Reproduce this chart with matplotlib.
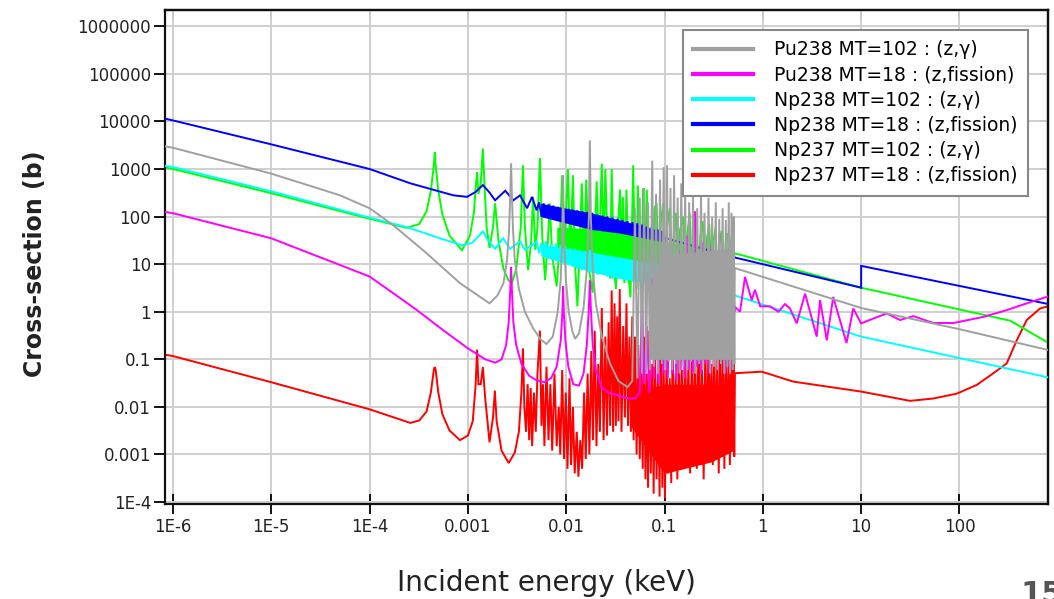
import matplotlib
matplotlib.use("Agg")
import matplotlib.pyplot as plt
from matplotlib.ticker import FixedLocator, FixedFormatter, NullLocator

# ---------------- data (energy in keV, cross-section in barn) ----------------
pu238_capture_E = [8.3e-7, 1e-6, 1e-5, 5e-5, 1e-4, 1.74e-4, 3.8e-4, 8.3e-4, 1.66e-3,
    2.0e-3, 2.3e-3, 2.5e-3, 2.62e-3, 2.7e-3, 2.75e-3, 2.8e-3, 2.88e-3, 3.0e-3, 3.3e-3,
    3.8e-3, 4.6e-3, 5.5e-3, 6.3e-3, 7.3e-3, 8.2e-3, 8.8e-3, 9.1e-3, 9.3e-3, 9.5e-3,
    9.9e-3, 1.06e-2, 1.15e-2, 1.23e-2, 1.35e-2, 1.5e-2, 1.62e-2, 1.7e-2, 1.74e-2,
    1.78e-2, 1.86e-2, 2.0e-2, 2.3e-2, 2.8e-2, 3.4e-2, 4.2e-2,
    0.047, 0.050, 0.053, 0.056, 0.059, 0.062, 0.065, 0.068, 0.071, 0.075, 0.078, 0.082,
    0.086, 0.090, 0.094, 0.098, 0.102, 0.106, 0.110, 0.115, 0.120, 0.125, 0.130, 0.136,
    0.142, 0.148, 0.155, 0.162, 0.170, 0.178, 0.186, 0.195, 0.205, 0.215, 0.225, 0.235,
    0.245, 0.255, 0.268, 0.280, 0.292, 0.305, 0.318, 0.332, 0.346, 0.360, 0.375, 0.390,
    0.405, 0.42, 0.435, 0.45, 0.465, 0.48, 0.495, 0.505, 0.513, 0.518,
    1.0, 10.0, 100.0, 875.0]
pu238_capture_xs = [3000, 2800, 800, 280, 150, 66, 17, 4, 1.5,
    2.2, 4, 12, 50, 300, 1300, 300, 50, 12, 3,
    1.0, 0.45, 0.26, 0.21, 0.3, 1, 5, 40, 740, 40,
    5, 1, 0.4, 0.27, 0.35, 1.2, 8, 100, 4000,
    100, 8, 1.5, 0.3, 0.08, 0.035, 0.026,
    0.035, 150, 0.04, 250, 0.05, 400, 0.05, 200, 0.06, 1500, 0.07, 300,
    0.05, 600, 0.08, 1100, 0.06, 1200, 0.09, 400, 0.06, 740, 0.08, 250,
    0.05, 500, 0.07, 330, 0.06, 200, 0.09, 260, 0.05, 150, 0.08, 300,
    0.06, 120, 0.1, 250, 0.05, 100, 0.07, 200, 0.06, 90, 0.08, 150,
    0.05, 85, 0.07, 200, 0.05, 120, 0.06, 100, 0.08, 8.3,
    5.4, 1.2, 0.43, 0.15]
# dense region (envelope of the packed resonances)
pu238_capture_band_E = [0.07, 0.1, 0.3, 0.5]
pu238_capture_band_hi = [3, 15, 20, 20]
pu238_capture_band_lo = [0.1, 0.1, 0.1, 0.1]

pu238_fission_E = [8.3e-7, 1e-6, 1e-5, 1e-4, 2e-4, 3e-4, 5.6e-4, 1e-3, 1.5e-3, 1.9e-3,
    2.2e-3, 2.45e-3, 2.6e-3, 2.7e-3, 2.75e-3, 2.8e-3, 2.9e-3, 3.1e-3, 3.5e-3, 4.2e-3,
    5.0e-3, 6.0e-3, 7.0e-3, 8.0e-3, 8.8e-3, 9.15e-3, 9.3e-3, 9.45e-3, 9.8e-3, 1.05e-2,
    1.18e-2, 1.35e-2, 1.5e-2, 1.62e-2, 1.7e-2, 1.74e-2, 1.78e-2, 1.86e-2, 2.0e-2, 2.3e-2,
    2.7e-2, 3.2e-2, 3.8e-2, 4.4e-2, 5.0e-2,
    0.056, 0.059, 0.062, 0.066, 0.070, 0.074, 0.078, 0.082, 0.087, 0.092, 0.097, 0.102,
    0.108, 0.114, 0.120, 0.126, 0.132, 0.139, 0.146, 0.153, 0.160, 0.168, 0.176, 0.185,
    0.194, 0.204, 0.214, 0.225, 0.236, 0.248, 0.260, 0.273, 0.286, 0.300, 0.315, 0.330,
    0.345, 0.360, 0.378, 0.396, 0.415, 0.435, 0.455, 0.475, 0.490, 0.505, 0.515,
    0.52, 0.586, 0.659, 0.77, 0.83, 0.94, 1.18, 1.44, 1.68, 1.89, 2.21, 2.69, 3.53, 3.82,
    4.47, 5.2, 7.1, 8.3, 10, 13.3, 18.2, 24.9, 34, 54, 87, 175, 302, 483, 772, 875]
pu238_fission_xs = [125, 118, 35, 5.5, 2.0, 1.1, 0.41, 0.17, 0.1, 0.085,
    0.1, 0.2, 0.6, 3, 8.7, 3, 0.6, 0.2, 0.08, 0.045,
    0.036, 0.033, 0.04, 0.07, 0.25, 1.0, 3.4, 1.0, 0.25, 0.07,
    0.03, 0.028, 0.05, 0.2, 1.2, 4.6, 1.2, 0.2, 0.06, 0.025,
    0.02, 0.018, 0.016, 0.015, 0.015,
    0.02, 2, 0.03, 0.5, 0.02, 5, 0.04, 1, 0.03, 8, 0.05, 0.8,
    0.04, 15, 0.05, 2, 0.035, 20, 0.06, 3, 0.04, 40, 0.06, 5,
    0.05, 130, 0.07, 8, 0.05, 30, 0.08, 6, 0.05, 25, 0.07, 4,
    0.06, 45, 0.08, 10, 0.05, 20, 0.07, 5, 0.06, 3, 1.0,
    1.27, 1.0, 5.4, 1.75, 2.9, 1.3, 1.3, 1.0, 1.45, 1.17, 0.57, 2.4, 0.3, 1.75,
    0.25, 2.05, 0.22, 1.17, 0.57, 0.72, 0.92, 0.67, 0.81, 0.58, 0.58, 0.78, 1.08, 1.5, 2.05, 2.3]

np238_capture_E = [8.3e-7, 1e-6, 1e-5, 1e-4, 2.4e-4, 5e-4, 8.7e-4, 1.1e-3, 1.3e-3, 1.42e-3,
    1.55e-3, 1.89e-3, 2.28e-3, 2.68e-3, 3.39e-3, 3.81e-3, 4.49e-3,
    0.0050, 0.0053, 0.0056, 0.0059, 0.0062, 0.0066, 0.0070, 0.0074, 0.0078, 0.0083,
    0.0088, 0.0093, 0.0098, 0.0104, 0.0110, 0.0116, 0.0123, 0.0130, 0.0138, 0.0146,
    0.0155, 0.0164, 0.0174, 0.0184, 0.0195, 0.0207, 0.0220, 0.0233, 0.0247, 0.0262,
    0.0278, 0.0295, 0.0313, 0.0332, 0.0352, 0.0373, 0.0396, 0.0420, 0.0445, 0.0472,
    0.0500, 0.0530, 0.0562, 0.0596, 0.0632, 0.0670, 0.0710, 0.0753, 0.0798, 0.0846,
    0.0897, 0.0950, 0.1000, 0.103,
    0.52, 10, 875]
np238_capture_xs = [1170, 1100, 340, 95, 60, 36, 25, 28, 40, 49,
    35, 21, 35, 21, 30, 20, 25,
    30, 17, 28, 15, 30, 14, 26, 13, 27, 12,
    25, 11, 24, 10, 22, 9, 21, 8, 20, 7.5,
    19, 7, 20, 6.5, 17, 6, 16, 6, 15, 5.5,
    15, 5, 14, 5, 14, 4.8, 13, 4.5, 12.5, 4.3,
    12, 4.2, 11.5, 4, 11, 3.8, 11, 3.7, 10.5, 3.6,
    10, 3.5, 9.5, 5.5,
    2.2, 0.3, 0.04]
np238_capture_band_E = [0.0055, 0.0176, 0.035, 0.1]
np238_capture_band_hi = [26, 18, 14, 9.5]
np238_capture_band_lo = [15, 7, 5, 3.6]

np238_fission_E = [8.3e-7, 1e-6, 1e-5, 1e-4, 2.6e-4, 7.1e-4, 9.8e-4, 1.2e-3, 1.42e-3, 1.66e-3,
    1.89e-3, 2.4e-3, 2.9e-3, 3.39e-3, 4.0e-3, 4.49e-3, 5.0e-3,
    0.0053, 0.0056, 0.0059, 0.0062, 0.0066, 0.0070, 0.0074, 0.0078, 0.0083, 0.0088,
    0.0093, 0.0098, 0.0104, 0.0110, 0.0116, 0.0123, 0.0130, 0.0138, 0.0146, 0.0155,
    0.0164, 0.0174, 0.0184, 0.0195, 0.0207, 0.0220, 0.0233, 0.0247, 0.0262, 0.0278,
    0.0295, 0.0313, 0.0332, 0.0352, 0.0373, 0.0396, 0.0420, 0.0445, 0.0472, 0.0500,
    0.0530, 0.0562, 0.0596, 0.0632, 0.0670, 0.0710, 0.0753, 0.0798, 0.0846, 0.0897,
    0.0950, 0.1000, 0.103,
    0.52, 10, 10, 875]
np238_fission_xs = [11500, 10500, 3300, 1000, 500, 280, 260, 330, 460, 320,
    220, 350, 220, 280, 150, 260, 135,
    200, 100, 190, 95, 180, 90, 170, 85, 160, 80,
    150, 76, 145, 72, 140, 68, 135, 64, 130, 60,
    125, 57, 120, 55, 110, 53, 105, 51, 100, 49,
    95, 47, 90, 46, 85, 44, 80, 42, 76, 40,
    72, 38, 68, 36, 62, 34, 58, 32, 54, 30,
    50, 29, 35,
    13.8, 3.2, 9.2, 1.4]
np238_fission_band_E = [0.0055, 0.0176, 0.035, 0.1]
np238_fission_band_hi = [190, 120, 85, 48]
np238_fission_band_lo = [100, 54, 45, 29]

np237_capture_E = [8.3e-7, 1e-6, 1e-5, 1e-4, 2.4e-4, 3.2e-4, 3.8e-4, 4.2e-4, 4.5e-4, 4.6e-4,
    4.7e-4, 5.0e-4, 5.5e-4, 6.5e-4, 8.7e-4, 1.05e-3, 1.15e-3, 1.21e-3, 1.24e-3, 1.28e-3,
    1.35e-3, 1.42e-3, 1.48e-3, 1.55e-3, 1.66e-3, 1.8e-3, 1.89e-3, 2.05e-3, 2.3e-3, 2.6e-3,
    2.8e-3, 3.1e-3, 3.45e-3, 3.63e-3, 3.8e-3, 4.1e-3, 4.4e-3, 4.6e-3, 4.85e-3, 5.1e-3,
    5.4e-3, 5.7e-3, 6.1e-3, 6.5e-3, 6.8e-3, 7.2e-3, 8.0e-3, 8.6e-3, 9.1e-3, 9.6e-3,
    1.04e-2, 1.1e-2, 1.17e-2, 1.23e-2, 1.3e-2, 1.37e-2, 1.44e-2, 1.52e-2, 1.6e-2, 1.7e-2,
    1.86e-2, 1.95e-2, 2.04e-2, 2.15e-2, 2.3e-2, 2.4e-2, 2.5e-2, 2.65e-2,
    0.028, 0.029, 0.0305, 0.032, 0.0335, 0.0353, 0.0365, 0.0377, 0.039, 0.041, 0.043,
    0.045, 0.0465, 0.048, 0.050, 0.052, 0.0535, 0.056, 0.058, 0.0605, 0.063, 0.066,
    0.069, 0.072, 0.075, 0.079, 0.083, 0.087, 0.092, 0.097, 0.101, 0.106, 0.113, 0.118,
    0.124, 0.130, 0.136, 0.143, 0.155, 0.162, 0.170, 0.180, 0.190, 0.200, 0.210, 0.220,
    0.232, 0.245, 0.258, 0.270, 0.285, 0.300, 0.315, 0.330, 0.345, 0.360, 0.380, 0.400,
    0.420, 0.440, 0.460, 0.480, 0.500, 0.515,
    10, 327, 875]
np237_capture_xs = [1080, 1000, 310, 90, 58, 70, 130, 350, 1200, 2240,
    1200, 350, 110, 40, 19.6, 40, 120, 500, 850, 300,
    500, 2700, 400, 60, 22, 60, 190, 30, 8, 4.5,
    4, 8, 60, 1200, 60, 7.5, 30, 260, 20, 60,
    1700, 40, 4.6, 30, 190, 15, 3.4, 30, 740, 20,
    1000, 15, 740, 10, 1.3, 20, 500, 12, 600, 8,
    2.5, 30, 550, 15, 1300, 20, 1000, 15,
    5, 1000, 10, 3, 60, 370, 8, 260, 4, 370, 6,
    2, 50, 1200, 10, 3, 450, 8, 3, 400, 6, 370,
    5, 60, 4, 150, 190, 6, 80, 190, 5, 60, 150, 6,
    40, 120, 5, 50, 100, 7, 40, 120, 6, 50, 90, 5,
    40, 80, 6, 35, 70, 5, 30, 60, 6, 25, 50, 5,
    30, 45, 6, 37, 8, 17,
    3.2, 0.65, 0.2]
np237_capture_band_E = [0.008, 0.0176, 0.035, 0.1, 0.3]
np237_capture_band_hi = [60, 55, 45, 30, 20]
np237_capture_band_lo = [14, 10, 8, 6, 5]

np237_fission_E = [8.3e-7, 1e-6, 1e-5, 1e-4, 2.6e-4, 3.2e-4, 3.8e-4, 4.2e-4, 4.5e-4, 4.6e-4,
    4.7e-4, 5.0e-4, 5.5e-4, 6.5e-4, 8.3e-4, 1.0e-3, 1.12e-3, 1.2e-3, 1.24e-3, 1.28e-3,
    1.35e-3, 1.42e-3, 1.5e-3, 1.66e-3, 1.8e-3, 1.88e-3, 1.96e-3, 2.2e-3, 2.6e-3, 3.0e-3,
    3.3e-3, 3.5e-3, 3.63e-3, 3.75e-3, 3.9e-3, 4.05e-3, 4.2e-3, 4.35e-3, 4.5e-3, 4.7e-3,
    4.9e-3, 5.1e-3, 5.4e-3, 5.6e-3, 5.8e-3, 6.0e-3, 6.3e-3, 6.6e-3, 6.9e-3, 7.2e-3,
    7.6e-3, 8.0e-3, 8.4e-3, 8.7e-3, 9.1e-3, 9.5e-3, 9.9e-3, 1.03e-2, 1.08e-2, 1.12e-2,
    1.17e-2, 1.22e-2, 1.28e-2, 1.33e-2, 1.39e-2, 1.45e-2, 1.52e-2, 1.58e-2, 1.65e-2, 1.72e-2,
    1.8e-2, 1.87e-2, 1.95e-2, 2.03e-2, 2.12e-2, 2.2e-2, 2.3e-2, 2.4e-2, 2.5e-2, 2.6e-2,
    2.7e-2, 2.8e-2, 2.9e-2, 3.0e-2, 3.1e-2, 3.2e-2, 3.3e-2, 3.4e-2, 3.5e-2, 3.65e-2,
    3.8e-2, 3.95e-2, 4.1e-2, 4.25e-2, 4.4e-2, 4.55e-2, 4.7e-2, 4.85e-2, 5.0e-2, 5.2e-2,
    5.4e-2, 5.6e-2, 5.8e-2, 6.0e-2, 6.2e-2, 6.4e-2, 6.6e-2, 6.8e-2, 7.0e-2, 7.25e-2,
    7.5e-2, 7.75e-2, 8.0e-2, 8.3e-2, 8.6e-2, 8.9e-2, 9.2e-2, 9.5e-2, 9.8e-2, 0.101,
    0.105, 0.109, 0.113, 0.117, 0.121, 0.125, 0.130, 0.135, 0.140, 0.145,
    0.150, 0.156, 0.162, 0.168, 0.175, 0.182, 0.190, 0.197, 0.205, 0.213,
    0.222, 0.231, 0.240, 0.250, 0.260, 0.270, 0.280, 0.290, 0.300, 0.310,
    0.320, 0.332, 0.344, 0.356, 0.368, 0.380, 0.393, 0.406, 0.420, 0.434,
    0.448, 0.462, 0.476, 0.490, 0.503, 0.512, 0.52,
    0.975, 2.04, 10, 31.4, 54, 94, 150, 221, 302, 382, 483, 660, 875]
np237_fission_xs = [0.125, 0.117, 0.033, 0.0089, 0.0046, 0.0052, 0.008, 0.02, 0.06, 0.069,
    0.06, 0.02, 0.007, 0.0032, 0.002, 0.0025, 0.005, 0.03, 0.16, 0.03,
    0.03, 0.069, 0.015, 0.0018, 0.006, 0.022, 0.005, 0.0012, 0.00066, 0.0011,
    0.003, 0.02, 0.17, 0.01, 0.003, 0.03, 0.002, 0.025, 0.0015, 0.02,
    0.003, 0.05, 0.4, 0.004, 0.03, 0.0015, 0.07, 0.002, 0.03, 0.0012,
    0.05, 0.0015, 0.01, 0.001, 0.06, 0.0008, 0.02, 0.0005, 0.04, 0.0006,
    0.01, 0.0004, 0.003, 0.00034, 0.002, 0.0005, 0.02, 0.0008, 0.05, 0.001,
    0.15, 0.002, 0.4, 0.0015, 0.08, 0.003, 1.2, 0.002, 0.3, 0.0025,
    0.6, 0.004, 2.8, 0.003, 1.5, 0.004, 0.8, 0.005, 3, 0.003,
    0.5, 0.006, 1.5, 0.004, 0.3, 0.003, 0.8, 0.002, 0.3, 0.001,
    0.2, 0.0008, 0.1, 0.0005, 0.3, 0.0003, 0.05, 0.0002, 0.4, 0.0004,
    0.08, 0.00015, 0.2, 0.0003, 0.05, 0.00013, 0.3, 0.0002, 0.06, 0.00012,
    0.15, 0.0004, 0.04, 0.00025, 0.3, 0.0005, 0.05, 0.0003, 0.2, 0.001,
    0.06, 0.0005, 0.3, 0.0008, 0.1, 0.0004, 0.25, 0.0006, 0.15, 0.0005,
    0.4, 0.0012, 0.1, 0.0003, 0.2, 0.0008, 0.3, 0.002, 0.08, 0.0006,
    0.25, 0.0015, 0.1, 0.0004, 0.3, 0.001, 0.15, 0.0005, 0.2, 0.0012,
    0.1, 0.0006, 0.25, 0.0015, 0.1, 0.0009, 0.051,
    0.055, 0.034, 0.021, 0.0134, 0.015, 0.019, 0.029, 0.051, 0.082, 0.25, 0.67, 1.17, 1.38]
np237_fission_band_E = [0.045, 0.1, 0.3, 0.5]
np237_fission_band_hi = [0.02, 0.03, 0.03, 0.025]
np237_fission_band_lo = [0.004, 0.0004, 0.0007, 0.0012]

series_labels = ["Pu238 MT=102 : (z,\u03b3)", "Pu238 MT=18 : (z,fission)",
                 "Np238 MT=102 : (z,\u03b3)", "Np238 MT=18 : (z,fission)",
                 "Np237 MT=102 : (z,\u03b3)", "Np237 MT=18 : (z,fission)"]
x_tick_values = [1e-6, 1e-5, 1e-4, 1e-3, 1e-2, 1e-1, 1, 10, 100]
x_tick_labels = ["1E-6", "1E-5", "1E-4", "0.001", "0.01", "0.1", "1", "10", "100"]
y_tick_values = [1e-4, 1e-3, 1e-2, 1e-1, 1, 10, 100, 1e3, 1e4, 1e5, 1e6]
y_tick_labels = ["1E-4", "0.001", "0.01", "0.1", "1", "10", "100", "1000",
                 "10000", "100000", "1000000"]

# ---------------- figure ----------------
W, H = 1054, 599
fig = plt.figure(figsize=(W / 100, H / 100), dpi=100)
ax = fig.add_axes([165 / W, 1 - 504 / H, (1048 - 165) / W, (504 - 10) / H])
ax.set_xscale("log")
ax.set_yscale("log")
ax.set_xlim(8.3e-7, 795)
ax.set_ylim(9.1e-5, 2.2e6)

series = [
    (pu238_capture_E, pu238_capture_xs, "#a0a0a0", 6),
    (pu238_fission_E, pu238_fission_xs, "#ff00ff", 5),
    (np238_capture_E, np238_capture_xs, "#00ffff", 4),
    (np238_fission_E, np238_fission_xs, "#0000ff", 3),
    (np237_capture_E, np237_capture_xs, "#00ff00", 2),
    (np237_fission_E, np237_fission_xs, "#ff0000", 1),
]
for (E, xs, col, z), lab in zip(series, series_labels):
    ax.plot(E, xs, color=col, lw=1.4, zorder=z, label=lab, solid_joinstyle="miter")

bands = [
    (pu238_capture_band_E, pu238_capture_band_lo, pu238_capture_band_hi, "#a0a0a0", 6),
    (np238_capture_band_E, np238_capture_band_lo, np238_capture_band_hi, "#00ffff", 4),
    (np238_fission_band_E, np238_fission_band_lo, np238_fission_band_hi, "#0000ff", 3),
    (np237_capture_band_E, np237_capture_band_lo, np237_capture_band_hi, "#00ff00", 2),
    (np237_fission_band_E, np237_fission_band_lo, np237_fission_band_hi, "#ff0000", 1),
]
for E, lo, hi, col, z in bands:
    ax.fill_between(E, lo, hi, color=col, lw=0, zorder=z - 0.1)

ax.grid(True, which="major", color="#cfcfcf", lw=1.4, zorder=0)
ax.set_axisbelow(True)
ax.xaxis.set_major_locator(FixedLocator(x_tick_values))
ax.xaxis.set_major_formatter(FixedFormatter(x_tick_labels))
ax.xaxis.set_minor_locator(NullLocator())
ax.yaxis.set_major_locator(FixedLocator(y_tick_values))
ax.yaxis.set_major_formatter(FixedFormatter(y_tick_labels))
ax.yaxis.set_minor_locator(NullLocator())
ax.tick_params(axis="x", direction="inout", length=14, width=1.4, labelsize=12,
               pad=3, colors="#111111", labelcolor="#222222")
ax.tick_params(axis="y", direction="out", length=8, width=1.4, labelsize=12,
               pad=2, colors="#111111", labelcolor="#222222")
for s in ax.spines.values():
    s.set_linewidth(1.6)
    s.set_color("#111111")

sec_x = ax.secondary_xaxis("top")
sec_x.xaxis.set_major_locator(FixedLocator(x_tick_values))
sec_x.xaxis.set_minor_locator(NullLocator())
sec_x.tick_params(direction="in", length=6, width=1.4, labeltop=False)
sec_x.spines["top"].set_linewidth(1.6)
sec_y = ax.secondary_yaxis("right")
sec_y.yaxis.set_major_locator(FixedLocator(y_tick_values))
sec_y.yaxis.set_minor_locator(NullLocator())
sec_y.tick_params(direction="in", length=6, width=1.4, labelright=False)
sec_y.spines["right"].set_linewidth(1.6)

leg = ax.legend(loc="upper left", bbox_to_anchor=(683 / W, 1 - 30 / H),
                bbox_transform=fig.transFigure, fontsize=13.5, frameon=True,
                fancybox=False, edgecolor="#888888", framealpha=1,
                handlelength=3.2, handletextpad=1.1, labelspacing=0.33,
                borderpad=0.55, borderaxespad=0)
leg.get_frame().set_linewidth(1.5)
leg.set_zorder(20)
for ln in leg.get_lines():
    ln.set_linewidth(3)

fig.text(35 / W, 1 - 264 / H, "Cross-section (b)", rotation=90, ha="center",
         va="center", fontsize=17, fontweight="bold", color="#222222")
fig.text(546 / W, 1 - 583 / H, "Incident energy (keV)", ha="center", va="center",
         fontsize=20, color="#222222")
fig.text(1020 / W, 1 - 603 / H, "15", ha="left", va="baseline", fontsize=22,
         fontweight="bold", color="#555555")

fig.savefig("out.png", dpi=100)
